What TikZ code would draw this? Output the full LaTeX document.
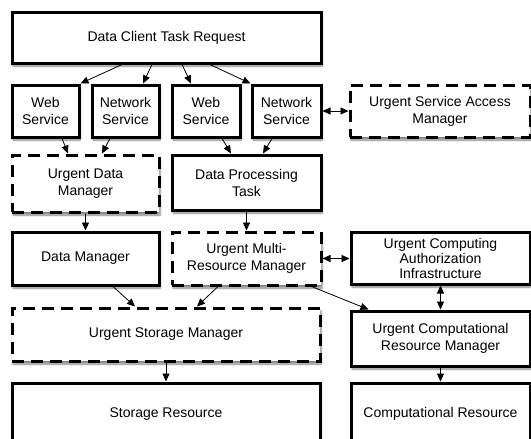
\documentclass[tikz,border=0pt]{standalone}
\usepackage{fontspec}
\setmainfont{Liberation Sans}
\usetikzlibrary{arrows.meta}
\usetikzlibrary{shadows.blur}

\begin{document}
\begin{tikzpicture}[x=1pt,y=-1pt,
    box/.style={draw,line width=3pt,fill=white,align=center,inner sep=0pt,
        font=\fontsize{14}{17}\selectfont,
        blur shadow={shadow xshift=1pt,shadow yshift=-3pt,shadow blur steps=6,shadow opacity=50}},
    dbox/.style={box,dash pattern=on 12pt off 7pt},
    arr/.style={-{Triangle[length=8pt,width=7pt]},line width=0.8pt},
    darr/.style={{Triangle[length=8pt,width=7pt]}-{Triangle[length=8pt,width=7pt]},line width=0.8pt}]

    \useasboundingbox (0,0) rectangle (531,439);

    \node[box,minimum width=309pt,minimum height=51pt] (req) at (166.5,37.5) {Data Client Task Request};

    \node[box,minimum width=67pt,minimum height=52pt] (web1) at (45.5,111) {Web\\Service};
    \node[box,minimum width=67pt,minimum height=52pt] (net1) at (125.5,111) {Network\\Service};
    \node[box,minimum width=68pt,minimum height=52pt] (web2) at (206,111) {Web\\Service};
    \node[box,minimum width=69pt,minimum height=52pt] (net2) at (286.5,111) {Network\\Service};
    \node[dbox,minimum width=180pt,minimum height=52pt] (usam) at (440,111) {Urgent Service Access\\Manager};

    \node[dbox,minimum width=147pt,minimum height=57pt] (udm) at (85.5,183.5) {Urgent Data\\Manager};
    \node[box,minimum width=149pt,minimum height=55pt] (dpt) at (246.5,182.5) {Data Processing\\Task};

    \node[box,minimum width=147pt,minimum height=53pt] (dm) at (85.5,258.5) {Data Manager};
    \node[dbox,minimum width=149pt,minimum height=53pt] (umrm) at (246.5,258.5) {Urgent Multi-\\Resource Manager};
    \node[box,minimum width=179pt,minimum height=52pt,font=\fontsize{14}{15}\selectfont] (ucai) at (440.5,258) {Urgent Computing\\Authorization\\Infrastructure};

    \node[dbox,minimum width=308pt,minimum height=53pt] (usm) at (166,334.5) {Urgent Storage Manager};
    \node[box,minimum width=179pt,minimum height=55pt] (ucrm) at (440.5,338.5) {Urgent Computational\\Resource Manager};

    \node[box,minimum width=308pt,minimum height=62pt] (sr) at (166,414) {Storage Resource};
    \node[box,minimum width=179pt,minimum height=62pt] (cr) at (440.5,414) {Computational Resource};

    \draw[arr] ([xshift=-44.5pt]req.south) -- (web1.north east);
    \draw[arr] ([xshift=-14.5pt]req.south) -- ([xshift=17.5pt]net1.north);
    \draw[arr] ([xshift=15.5pt]req.south) -- ([xshift=-15pt]web2.north);
    \draw[arr] ([xshift=43.5pt]req.south) -- (net2.north west);
    \draw[darr] (net2.east) -- (usam.west);

    \draw[arr] ([xshift=16.5pt]web1.south) -- ([xshift=-17.5pt]udm.north);
    \draw[arr] ([xshift=-15.5pt]net1.south) -- ([xshift=16.5pt]udm.north);
    \draw[arr] ([xshift=16pt]web2.south) -- ([xshift=-15.5pt]dpt.north);
    \draw[arr] ([xshift=-14.5pt]net2.south) -- ([xshift=16.5pt]dpt.north);

    \draw[arr] (udm.south) -- (dm.north);
    \draw[arr] (dpt.south) -- (umrm.north);
    \draw[darr] (umrm.east) -- (umrm.east -| ucai.west);
    \draw[darr] (ucai.south) -- (ucai.south |- ucrm.north);

    \draw[arr] ([xshift=27.5pt]dm.south) -- ([xshift=-31pt]usm.north);
    \draw[arr] ([xshift=-28.5pt]umrm.south) -- ([xshift=31pt]usm.north);
    \draw[arr] ([xshift=-11pt]umrm.south east) -- ([xshift=19pt]ucrm.north west);

    \draw[arr] (usm.south) -- (sr.north);
    \draw[arr] (ucrm.south) -- (cr.north);
\end{tikzpicture}
\end{document}
